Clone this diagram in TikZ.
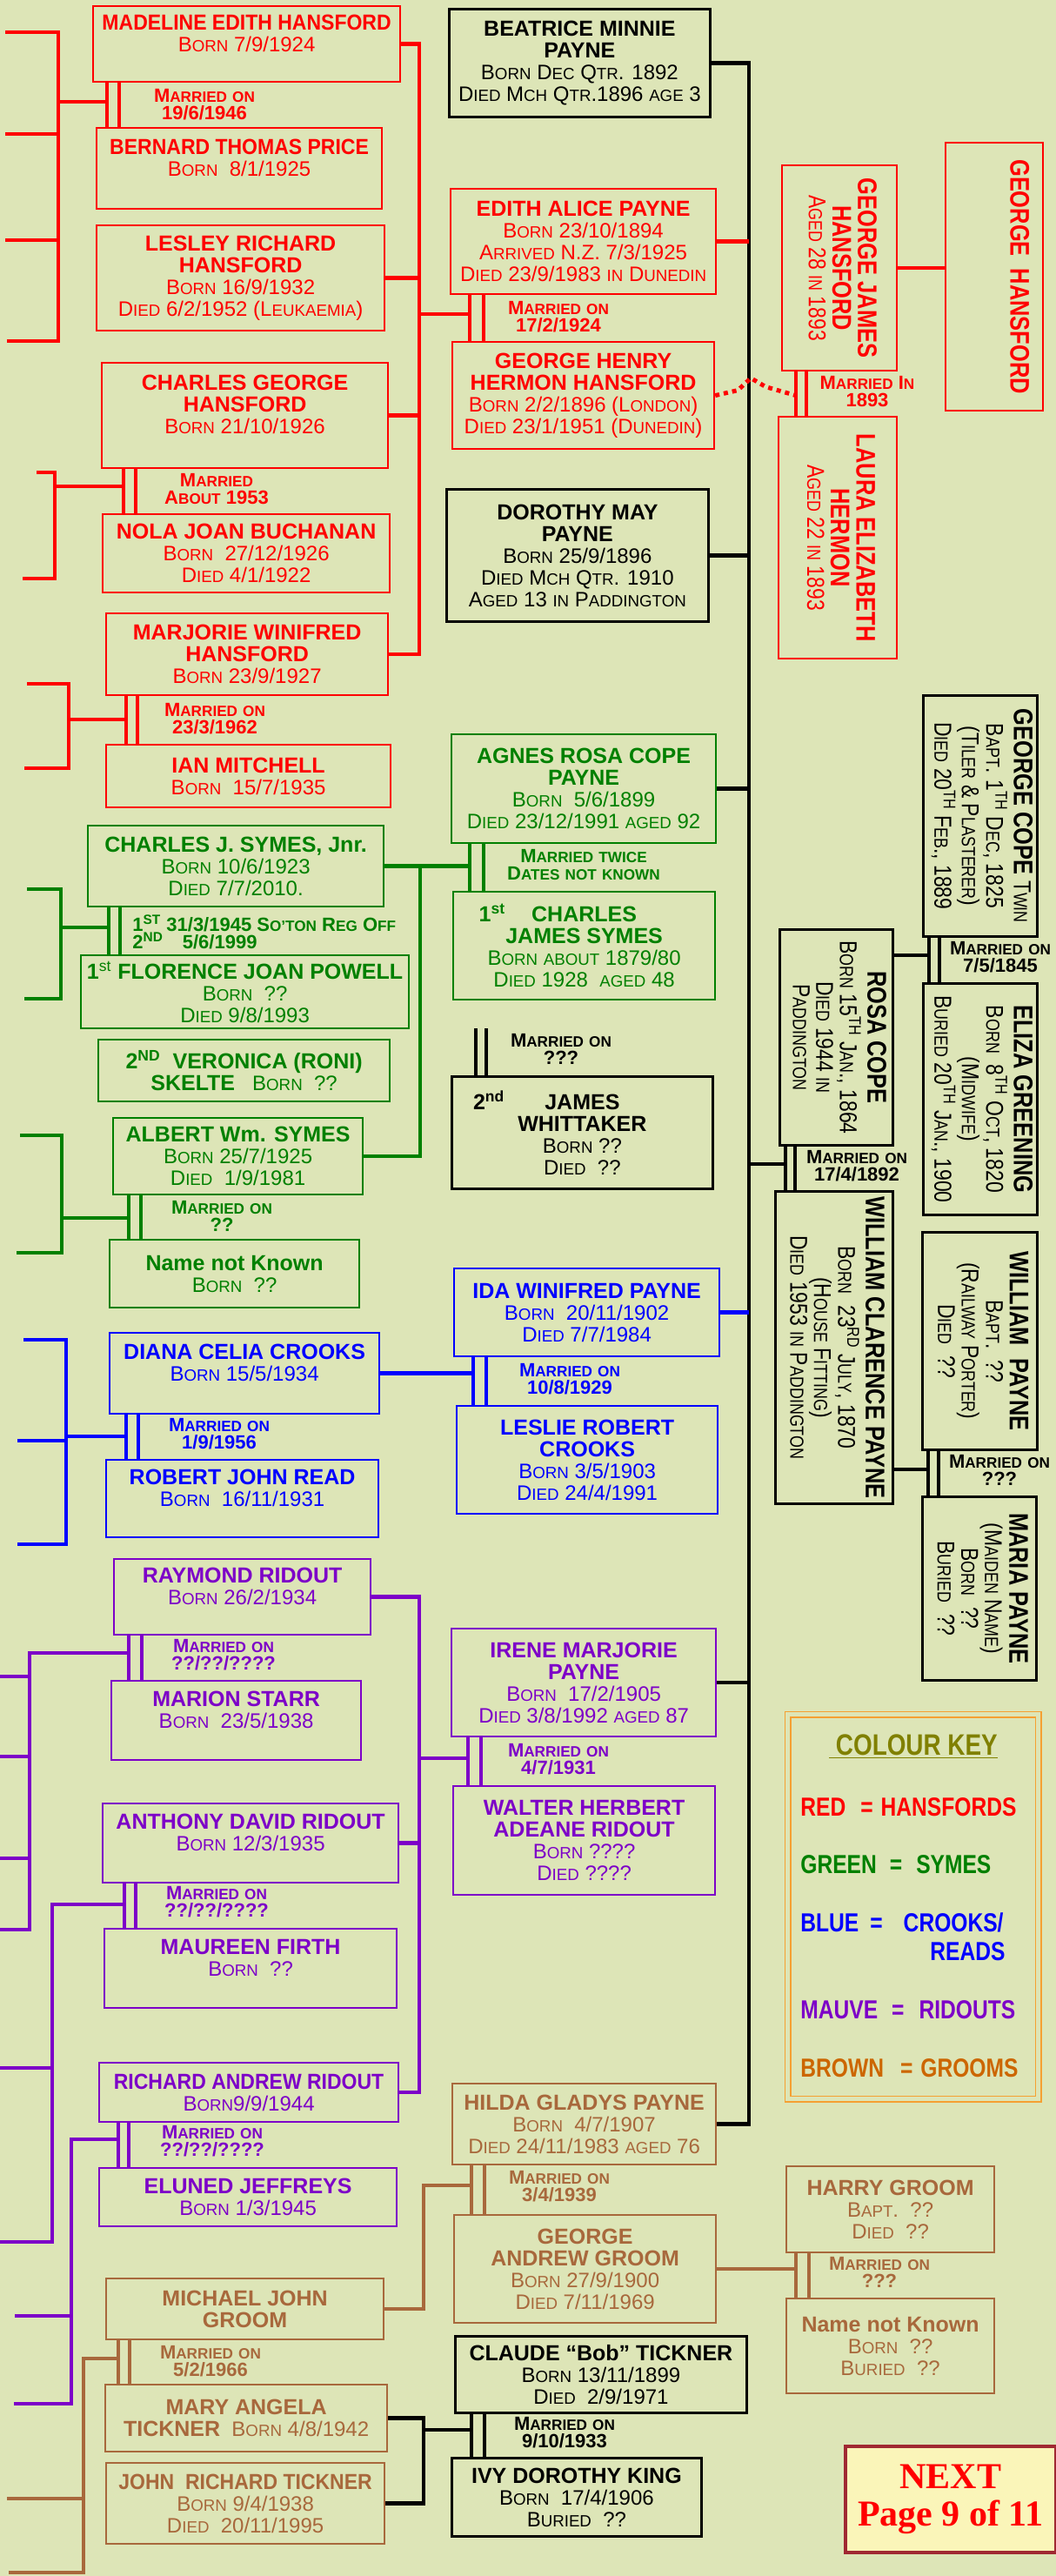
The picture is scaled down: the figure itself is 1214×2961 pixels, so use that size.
\documentclass[tikz,border=0pt]{standalone}
\usepackage{fontspec}
\usepackage{graphicx}
\setmainfont{Liberation Sans}
\newfontfamily\narrowsans{Liberation Sans}[FakeStretch=0.82]
\newfontfamily\nextserif{Liberation Serif}
\usetikzlibrary{calc}
\definecolor{bgleaf}{RGB}{221,229,183}
\definecolor{hansred}{RGB}{255,0,0}
\definecolor{symesgreen}{RGB}{0,128,0}
\definecolor{crooksblue}{RGB}{0,0,255}
\definecolor{ridoutmauve}{RGB}{125,0,200}
\definecolor{groombrown}{RGB}{168,104,60}
\definecolor{keybrown}{RGB}{204,102,0}
\definecolor{keyolive}{RGB}{128,128,0}
\definecolor{keyorange}{RGB}{245,160,50}
\definecolor{nextred}{RGB}{160,40,50}
\definecolor{nextfill}{RGB}{250,245,185}

\newcommand\sm[1]{\scalebox{0.78}{#1}}
\newcommand\tight[1]{\scalebox{0.92}[1]{#1}}
\newcommand\nm[1]{{\bfseries\fontsize{12.5}{12.5}\selectfont #1}}
\newcommand\nmv[1]{{\bfseries\fontsize{15.5}{12.5}\selectfont #1}}
\newcommand\turned[1]{\rotatebox{-90}{\narrowsans\fontsize{14}{12.8}\selectfont\begin{tabular}{@{}c@{}}#1\end{tabular}}}
\newcommand\marriedon{M\sm{ARRIED} \sm{ON}}
% double line of a marriage: colour, upper, lower, offsets from upper's left side
\newcommand\wed[5]{\draw[wedline=#1] ($(#2.south west)+(#4,0)$) coordinate (#2-w) -- (#2-w |- #3.north)
  ($(#2.south west)+(#5,0)$) coordinate (#2-v) -- (#2-v |- #3.north);}

\tikzset{
  person/.style={draw=#1, text=#1, line width=1.1pt, anchor=north west, inner sep=0pt,
    align=center, font=\fontsize{12}{12.5}\selectfont},
  elder/.style={person=black, line width=1.4pt},
  sz/.style 2 args={minimum width=#1*0.5pt, minimum height=#2*0.5pt},
  famlink/.style={draw=#1, line width=2.2pt},
  famfork/.style={draw=#1, line width=2pt},
  wedline/.style={draw=#1, line width=1.9pt},
  wedlabel/.style={text=#1, align=center, inner sep=0pt, font=\bfseries\fontsize{11}{10}\selectfont},
  keyrow/.style={text=#1, anchor=west, inner sep=0pt, font=\narrowsans\bfseries\fontsize{15}{15}\selectfont},
}

\begin{document}
\begin{tikzpicture}[x=0.5pt, y=-0.5pt]
\path[use as bounding box, fill=bgleaf] (0,0) rectangle (1214,2961);

% Hansfords
\node[person=hansred, sz={353}{87}] (madeline) at (106,6) {\nm{\tight{MADELINE EDITH HANSFORD}}\\B\sm{ORN} 7/9/1924\\~};
\node[person=hansred, sz={328}{93}] (bernard) at (110,146) {\nm{\tight{BERNARD THOMAS PRICE}}\\B\sm{ORN}\ \ 8/1/1925\\~};
\node[person=hansred, sz={331}{121}] (lesley) at (110,258) {\nm{LESLEY RICHARD}\\\nm{HANSFORD}\\B\sm{ORN} 16/9/1932\\D\sm{IED} 6/2/1952 (L\sm{EUKAEMIA})};
\node[person=hansred, sz={329}{121}] (charlesg) at (116,416) {\nm{CHARLES GEORGE}\\\nm{HANSFORD}\\B\sm{ORN} 21/10/1926\\~};
\node[person=hansred, sz={330}{90}] (nola) at (117,590) {\nm{NOLA JOAN BUCHANAN}\\B\sm{ORN}\ \ 27/12/1926\\D\sm{IED} 4/1/1922};
\node[person=hansred, sz={324}{94}] (marjorie) at (121,704) {\nm{MARJORIE WINIFRED}\\\nm{HANSFORD}\\B\sm{ORN} 23/9/1927};
\node[person=hansred, sz={327}{72}] (ian) at (121,855) {\nm{IAN MITCHELL}\\B\sm{ORN}\ \ 15/7/1935};
\node[person=hansred, sz={305}{121}] (edith) at (517,216) {\nm{EDITH ALICE PAYNE}\\B\sm{ORN} 23/10/1894\\A\sm{RRIVED} N.Z. 7/3/1925\\D\sm{IED} 23/9/1983 \sm{IN} D\sm{UNEDIN}};
\node[person=hansred, sz={301}{123}] (georgeh) at (519,392) {\nm{GEORGE HENRY}\\\nm{HERMON HANSFORD}\\B\sm{ORN} 2/2/1896 (L\sm{ONDON})\\D\sm{IED} 23/1/1951 (D\sm{UNEDIN})};
\node[person=hansred, sz={132}{236}] (gjh) at (898,189) {\turned{\nmv{GEORGE JAMES}\\\nmv{HANSFORD}\\A\sm{GED} 28 \sm{IN} 1893}};
\node[person=hansred, sz={112}{308}] (gh) at (1086,163) {\turned{\nmv{GEORGE\ \ HANSFORD}\\~\\~}};
\node[person=hansred, sz={136}{278}] (laura) at (894,478) {\turned{\nmv{LAURA ELIZABETH}\\\nmv{HERMON}\\A\sm{GED} 22 \sm{IN} 1893}};

% Paynes and Copes
\node[elder, sz={300}{124}] (beatrice) at (515,9) {\nm{BEATRICE MINNIE}\\\nm{PAYNE}\\B\sm{ORN} D\sm{EC} Q\sm{TR}. 1892\\D\sm{IED} M\sm{CH} Q\sm{TR}.1896 \sm{AGE} 3};
\node[elder, sz={301}{152}] (dorothy) at (512,561) {\nm{DOROTHY MAY}\\\nm{PAYNE}\\B\sm{ORN} 25/9/1896\\D\sm{IED} M\sm{CH} Q\sm{TR}. 1910\\A\sm{GED} 13 \sm{IN} P\sm{ADDINGTON}};
\node[elder, sz={300}{129}] (whittaker) at (518,1236) {\makebox[0pt][r]{\nm{2\textsuperscript{nd}}\hspace{23pt}}\nm{JAMES}\\\nm{WHITTAKER}\\B\sm{ORN} ??\\D\sm{IED}\ \ ??};
\node[elder, sz={131}{277}] (georgecope) at (1060,798) {\turned{\nmv{GEORGE COPE} T\sm{WIN}\\B\sm{APT}. 1\textsuperscript{TH} D\sm{EC}, 1825\\(T\sm{ILER} \& P\sm{LASTERER})\\D\sm{IED} 20\textsuperscript{TH} F\sm{EB}., 1889}};
\node[elder, sz={130}{248}] (rosa) at (895,1067) {\turned{\nmv{ROSA COPE}\\B\sm{ORN} 15\textsuperscript{TH} J\sm{AN}., 1864\\D\sm{IED} 1944 \sm{IN}\\P\sm{ADDINGTON}}};
\node[elder, sz={131}{266}] (eliza) at (1060,1129) {\turned{\nmv{ELIZA GREENING}\\B\sm{ORN}\ \ 8\textsuperscript{TH} O\sm{CT}, 1820\\(M\sm{IDWIFE})\\B\sm{URIED} 20\textsuperscript{TH} J\sm{AN}., 1900}};
\node[elder, sz={135}{359}] (williamc) at (890,1368) {\turned{\nmv{WILLIAM CLARENCE PAYNE}\\B\sm{ORN}\ \ 23\textsuperscript{RD} J\sm{ULY}, 1870\\(H\sm{OUSE} F\sm{ITTING})\\D\sm{IED} 1953 \sm{IN} P\sm{ADDINGTON}}};
\node[elder, sz={132}{250}] (williamp) at (1059,1415) {\turned{\nmv{WILLIAM\ \ PAYNE}\\B\sm{APT}.\ \ ??\\(R\sm{AILWAY} P\sm{ORTER})\\D\sm{IED}\ \ ??}};
\node[elder, sz={131}{211}] (maria) at (1059,1719) {\turned{\nmv{MARIA PAYNE}\\(M\sm{AIDEN} N\sm{AME})\\B\sm{ORN}\ \ ??\\B\sm{URIED}\ \ ??}};
\node[elder, sz={335}{88}] (claude) at (522,2684) {\nm{CLAUDE “Bob” TICKNER}\\B\sm{ORN} 13/11/1899\\D\sm{IED}\ \ 2/9/1971};
\node[elder, sz={287}{90}] (ivy) at (518,2824) {\nm{IVY DOROTHY KING}\\B\sm{ORN}\ \ 17/4/1906\\B\sm{URIED}\ \ ??};

% Symes
\node[person=symesgreen, sz={304}{125}] (agnes) at (518,843) {\nm{AGNES ROSA COPE}\\\nm{PAYNE}\\B\sm{ORN}\ \ 5/6/1899\\D\sm{IED} 23/12/1991 \sm{AGED} 92};
\node[person=symesgreen, sz={301}{124}] (charlessr) at (520,1024) {\makebox[0pt][r]{\nm{1\textsuperscript{st}}\hspace{15pt}}\nm{CHARLES}\\\nm{JAMES SYMES}\\B\sm{ORN} \sm{ABOUT} 1879/80\\D\sm{IED} 1928\ \ \sm{AGED} 48};
\node[person=symesgreen, sz={340}{93}] (charlesjr) at (100,948) {\nm{CHARLES J. SYMES, Jnr.}\\B\sm{ORN} 10/6/1923\\D\sm{IED} 7/7/2010.};
\node[person=symesgreen, sz={377}{84}] (florence) at (92,1097) {\nm{1{\mdseries\textsuperscript{st}} FLORENCE JOAN POWELL}\\B\sm{ORN}\ \ ??\\D\sm{IED} 9/8/1993};
\node[person=symesgreen, sz={335}{71}] (veronica) at (112,1194) {\nm{2\textsuperscript{ND}\ \ VERONICA (RONI)}\\\nm{SKELTE}\ \ \ B\sm{ORN}\ \ ??};
\node[person=symesgreen, sz={287}{88}] (albert) at (129,1284) {\nm{ALBERT Wm. SYMES}\\B\sm{ORN} 25/7/1925\\D\sm{IED}\ \ 1/9/1981};
\node[person=symesgreen, sz={287}{78}] (nnkgreen) at (125,1424) {\nm{Name not Known}\\B\sm{ORN}\ \ ??};

% Crooks / Reads
\node[person=crooksblue, sz={305}{101}] (ida) at (521,1457) {\nm{IDA WINIFRED PAYNE}\\B\sm{ORN}\ \ 20/11/1902\\D\sm{IED} 7/7/1984};
\node[person=crooksblue, sz={300}{124}] (leslie) at (524,1615) {\nm{LESLIE ROBERT}\\\nm{CROOKS}\\B\sm{ORN} 3/5/1903\\D\sm{IED} 24/4/1991};
\node[person=crooksblue, sz={310}{93}] (diana) at (125,1531) {\nm{DIANA CELIA CROOKS}\\B\sm{ORN} 15/5/1934\\~};
\node[person=crooksblue, sz={313}{89}] (robert) at (121,1677) {\nm{ROBERT JOHN READ}\\B\sm{ORN}\ \ 16/11/1931\\~};

% Ridouts
\node[person=ridoutmauve, sz={295}{87}] (raymond) at (130,1791) {\nm{RAYMOND RIDOUT}\\B\sm{ORN} 26/2/1934\\~};
\node[person=ridoutmauve, sz={287}{91}] (marion) at (127,1931) {\nm{MARION STARR}\\B\sm{ORN}\ \ 23/5/1938\\~};
\node[person=ridoutmauve, sz={340}{91}] (anthony) at (117,2072) {\nm{ANTHONY DAVID RIDOUT}\\B\sm{ORN} 12/3/1935\\~};
\node[person=ridoutmauve, sz={336}{91}] (maureen) at (119,2216) {\nm{MAUREEN FIRTH}\\B\sm{ORN}\ \ ??\\~};
\node[person=ridoutmauve, sz={344}{68}] (richard) at (113,2370) {\nm{\tight{RICHARD ANDREW RIDOUT}}\\B\sm{ORN}9/9/1944};
\node[person=ridoutmauve, sz={342}{67}] (eluned) at (113,2491) {\nm{ELUNED JEFFREYS}\\B\sm{ORN} 1/3/1945};
\node[person=ridoutmauve, sz={304}{124}] (irene) at (518,1871) {\nm{IRENE MARJORIE}\\\nm{PAYNE}\\B\sm{ORN}\ \ 17/2/1905\\D\sm{IED} 3/8/1992 \sm{AGED} 87};
\node[person=ridoutmauve, sz={301}{125}] (walter) at (520,2052) {\nm{WALTER HERBERT}\\\nm{ADEANE RIDOUT}\\B\sm{ORN} ????\\D\sm{IED} ????};

% Grooms
\node[person=groombrown, sz={303}{93}] (hilda) at (519,2394) {\nm{HILDA GLADYS PAYNE}\\B\sm{ORN}\ \ 4/7/1907\\D\sm{IED} 24/11/1983 \sm{AGED} 76};
\node[person=groombrown, sz={301}{124}] (georgea) at (521,2545) {\nm{GEORGE}\\\nm{ANDREW GROOM}\\B\sm{ORN} 27/9/1900\\D\sm{IED} 7/11/1969};
\node[person=groombrown, sz={239}{99}] (harry) at (903,2489) {\nm{HARRY GROOM}\\B\sm{APT}.\ \ ??\\D\sm{IED}\ \ ??};
\node[person=groombrown, sz={239}{109}] (nnkbrown) at (903,2641) {\nm{Name not Known}\\B\sm{ORN}\ \ ??\\B\sm{URIED}\ \ ??};
\node[person=groombrown, sz={319}{70}] (michael) at (121,2618) {\nm{MICHAEL JOHN}\\\nm{GROOM}};
\node[person=groombrown, sz={324}{77}] (mary) at (120,2740) {\nm{MARY ANGELA}\\\nm{TICKNER}\ \ B\sm{ORN} 4/8/1942};
\node[person=groombrown, sz={320}{93}] (johnr) at (121,2830) {\nm{\tight{JOHN\ \ RICHARD TICKNER}}\\B\sm{ORN} 9/4/1938\\D\sm{IED}\ \ 20/11/1995};

% marriages
\wed{hansred}{madeline}{bernard}{17}{31}
\wed{hansred}{charlesg}{nola}{26}{40}
\wed{hansred}{marjorie}{ian}{24}{37}
\wed{hansred}{edith}{georgeh}{23}{39}
\wed{hansred}{gjh}{laura}{17}{29}
\wed{symesgreen}{agnes}{charlessr}{22}{38}
\wed{symesgreen}{charlesjr}{florence}{25}{38}
\wed{symesgreen}{albert}{nnkgreen}{19}{33}
\wed{crooksblue}{ida}{leslie}{23}{38}
\wed{crooksblue}{diana}{robert}{20}{34}
\wed{ridoutmauve}{raymond}{marion}{18}{33}
\wed{ridoutmauve}{anthony}{maureen}{26}{39}
\wed{ridoutmauve}{richard}{eluned}{23}{35}
\wed{ridoutmauve}{irene}{walter}{20}{35}
\wed{groombrown}{hilda}{georgea}{23}{38}
\wed{groombrown}{harry}{nnkbrown}{12}{27}
\wed{groombrown}{michael}{mary}{15}{28}
\wed{black}{claude}{ivy}{20}{35}
\wed{black}{rosa}{williamc}{8}{19}
\wed{black}{georgecope}{eliza}{8}{20}
\wed{black}{williamp}{maria}{8}{20}
\coordinate (wt1) at (547,1182);
\coordinate (wt2) at (559,1182);
\draw[wedline=black] (wt1) -- (wt1 |- whittaker.north) (wt2) -- (wt2 |- whittaker.north);

\node[wedlabel=hansred] (wedmb) at (235,120) {\marriedon\\19/6/1946};
\node[wedlabel=hansred] (wedeg) at (642,364) {\marriedon\\17/2/1924};
\node[wedlabel=hansred] (wedgl) at (997,450) {M\sm{ARRIED} I\sm{N}\\1893};
\node[wedlabel=hansred] (wedcn) at (249,562) {M\sm{ARRIED}\\A\sm{BOUT} 1953};
\node[wedlabel=hansred] (wedmi) at (247,826) {\marriedon\\23/3/1962};
\node[wedlabel=symesgreen] (wedac) at (671,994) {M\sm{ARRIED} \sm{TWICE}\\D\sm{ATES} \sm{NOT} \sm{KNOWN}};
\node[wedlabel=symesgreen, anchor=west, align=left] (wedcf) at (152,1071) {1\textsuperscript{ST} 31/3/1945 S\sm{O'TON} R\sm{EG} O\sm{FF}\\2\textsuperscript{ND}\quad 5/6/1999};
\node[wedlabel=symesgreen] (wedan) at (255,1398) {\marriedon\\??};
\node[wedlabel=black] (wedwt) at (645,1206) {\marriedon\\???};
\node[wedlabel=black] (wedge) at (1150,1100) {\marriedon\\7/5/1845};
\node[wedlabel=black] (wedrw) at (985,1340) {\marriedon\\17/4/1892};
\node[wedlabel=black] (wedwm) at (1149,1690) {\marriedon\\???};
\node[wedlabel=crooksblue] (wedil) at (655,1585) {\marriedon\\10/8/1929};
\node[wedlabel=crooksblue] (weddr) at (252,1648) {\marriedon\\1/9/1956};
\node[wedlabel=ridoutmauve] (wedrm) at (257,1902) {\marriedon\\??/??/????};
\node[wedlabel=ridoutmauve] (wediw) at (642,2022) {\marriedon\\4/7/1931};
\node[wedlabel=ridoutmauve] (wedam) at (249,2186) {\marriedon\\??/??/????};
\node[wedlabel=ridoutmauve] (wedre) at (244,2461) {\marriedon\\??/??/????};
\node[wedlabel=groombrown] (wedhg) at (643,2513) {\marriedon\\3/4/1939};
\node[wedlabel=groombrown] (wedhn) at (1011,2612) {\marriedon\\???};
\node[wedlabel=groombrown] (wedmm) at (242,2714) {\marriedon\\5/2/1966};
\node[wedlabel=black] (wedci) at (649,2796) {\marriedon\\9/10/1933};

% family lines
\coordinate (trunk) at (861,64);
\draw[famlink=black] (beatrice.east) -- (beatrice.east -| trunk) -- (trunk |- hilda.east) -- (hilda.east);
\draw[famlink=hansred] (edith.east) -- (edith.east -| trunk);
\draw[famlink=black] (dorothy.east) -- (dorothy.east -| trunk);
\draw[famlink=black] (agnes.east) -- (agnes.east -| trunk);
\draw[famlink=crooksblue] (ida.east) -- (ida.east -| trunk);
\draw[famlink=black] (irene.east) -- (irene.east -| trunk);
\coordinate (rwjoin) at (903,1338);
\draw[famlink=black] (rwjoin -| trunk) -- (rosa-w |- rwjoin);
\coordinate (rosaside) at (1025,1098);
\draw[famlink=black] (rosaside) -- (rosaside -| georgecope-w);
\coordinate (wcside) at (1025,1689);
\draw[famlink=black] (wcside) -- (wcside -| williamp-w);

\coordinate (redtrunk) at (482,361);
\draw[famlink=hansred] (madeline.east) -| (redtrunk |- marjorie.east) -- (marjorie.east);
\draw[famlink=hansred] (lesley.east) -- (lesley.east -| redtrunk);
\draw[famlink=hansred] (charlesg.east) -- (charlesg.east -| redtrunk);
\draw[famlink=hansred] (redtrunk) -- (redtrunk -| edith-w);
\draw[famlink=hansred] (gjh.east) -- (gjh.east -| gh.west);
\draw[hansred, line width=2.5pt, dash pattern=on 2.5pt off 2.5pt] (georgeh.east) -- ++(26,-6) -- ++(15,-14) -- ++(17,10) -- (gjh-w |- georgeh.east);

\coordinate (greenjoin) at (483,994);
\draw[famlink=symesgreen] (charlesjr.east) -- (charlesjr.east -| agnes-w);
\draw[famlink=symesgreen] (greenjoin) |- (albert.east);
\draw[famlink=crooksblue] (diana.east) -- (diana.east -| ida-w);

\coordinate (mauvetrunk) at (482,2021);
\draw[famlink=ridoutmauve] (raymond.east) -| (mauvetrunk |- richard.east) -- (richard.east);
\draw[famlink=ridoutmauve] (anthony.east) -- (anthony.east -| mauvetrunk);
\draw[famlink=ridoutmauve] (mauvetrunk) -- (mauvetrunk -| irene-w);

\coordinate (groomjoin) at (487,2512);
\draw[famlink=groombrown] (michael.east) -| (groomjoin) -- (groomjoin -| hilda-w);
\draw[famlink=groombrown] (georgea.east) -- (georgea.east -| harry-w);
\coordinate (tickjoin) at (487,2793);
\draw[famlink=black] (mary.east) -| (tickjoin) |- (johnr.east);
\draw[famlink=black] (tickjoin) -- (tickjoin -| claude-w);

% children running off the page
\draw[famfork=hansred] (madeline-w |- 0,117) -- (67,117);
\draw[famfork=hansred] (6,37) -- (67,37) -- (67,392) -- (8,392) (6,154) -- (67,154) (6,276) -- (67,276);
\draw[famfork=hansred] (charlesg-w |- 0,559) -- (63,559);
\draw[famfork=hansred] (42,543) -- (63,543) -- (63,665) -- (26,665);
\draw[famfork=hansred] (marjorie-w |- 0,827) -- (79,827);
\draw[famfork=hansred] (31,786) -- (79,786) -- (79,883) -- (28,883);
\draw[famfork=symesgreen] (charlesjr-w |- 0,1066) -- (70,1066);
\draw[famfork=symesgreen] (31,1022) -- (70,1022) -- (70,1148) -- (28,1148);
\draw[famfork=symesgreen] (albert-w |- 0,1400) -- (71,1400);
\draw[famfork=symesgreen] (23,1305) -- (71,1305) -- (71,1440) -- (19,1440);
\draw[famfork=crooksblue] (diana-w |- 0,1651) -- (76,1651);
\draw[famfork=crooksblue] (27,1540) -- (76,1540) -- (76,1775) -- (20,1775) (20,1656) -- (76,1656);
\draw[famfork=ridoutmauve] (raymond-w |- 0,1900) -- (34,1900) -- (34,2218) -- (0,2218) (0,1927) -- (34,1927) (0,2019) -- (34,2019) (0,2136) -- (34,2136);
\draw[famfork=ridoutmauve] (anthony-w |- 0,2189) -- (60,2189) -- (60,2577) -- (0,2577) (0,2377) -- (60,2377);
\draw[famfork=ridoutmauve] (richard-w |- 0,2459) -- (82,2459) -- (82,2763) -- (16,2763) (17,2662) -- (82,2662);
\draw[famfork=groombrown] (michael-w |- 0,2711) -- (96,2711) -- (96,2957) -- (10,2957) (8,2872) -- (96,2872);

% colour key
\node[draw=keyorange, double=bgleaf, double distance=2.5pt, line width=0.8pt, anchor=north west, sz={288}{442}] (key) at (905,1970) {};
\node[text=keyolive, inner sep=0pt, font=\narrowsans\bfseries\fontsize{17}{17}\selectfont] (keytitle) at (1050,2008) {\underline{\ COLOUR KEY}};
\node[keyrow=hansred] (keyred) at (920,2077) {RED\hspace{8.5pt}=\hspace{4.5pt}HANSFORDS};
\node[keyrow=symesgreen] (keygreen) at (920,2143) {GREEN\hspace{7.5pt}=\hspace{8pt}SYMES};
\node[keyrow=crooksblue] (keyblue) at (920,2210) {BLUE\hspace{6.5pt}=\hspace{12pt}CROOKS/};
\node[keyrow=crooksblue] (keyblue2) at (1069,2243) {READS};
\node[keyrow=ridoutmauve] (keymauve) at (920,2310) {MAUVE\hspace{8pt}=\hspace{8.5pt}RIDOUTS};
\node[keyrow=keybrown] (keybrown) at (920,2377) {BROWN\hspace{9.5pt}=\hspace{4.5pt}GROOMS};

\node[draw=nextred, fill=nextfill, line width=1.8pt, anchor=north west, sz={242}{122}, align=center, text=hansred, font=\nextserif\bfseries\fontsize{21}{21.5}\selectfont] (next) at (970,2810) {NEXT\\Page 9 of 11};
\end{tikzpicture}
\end{document}
